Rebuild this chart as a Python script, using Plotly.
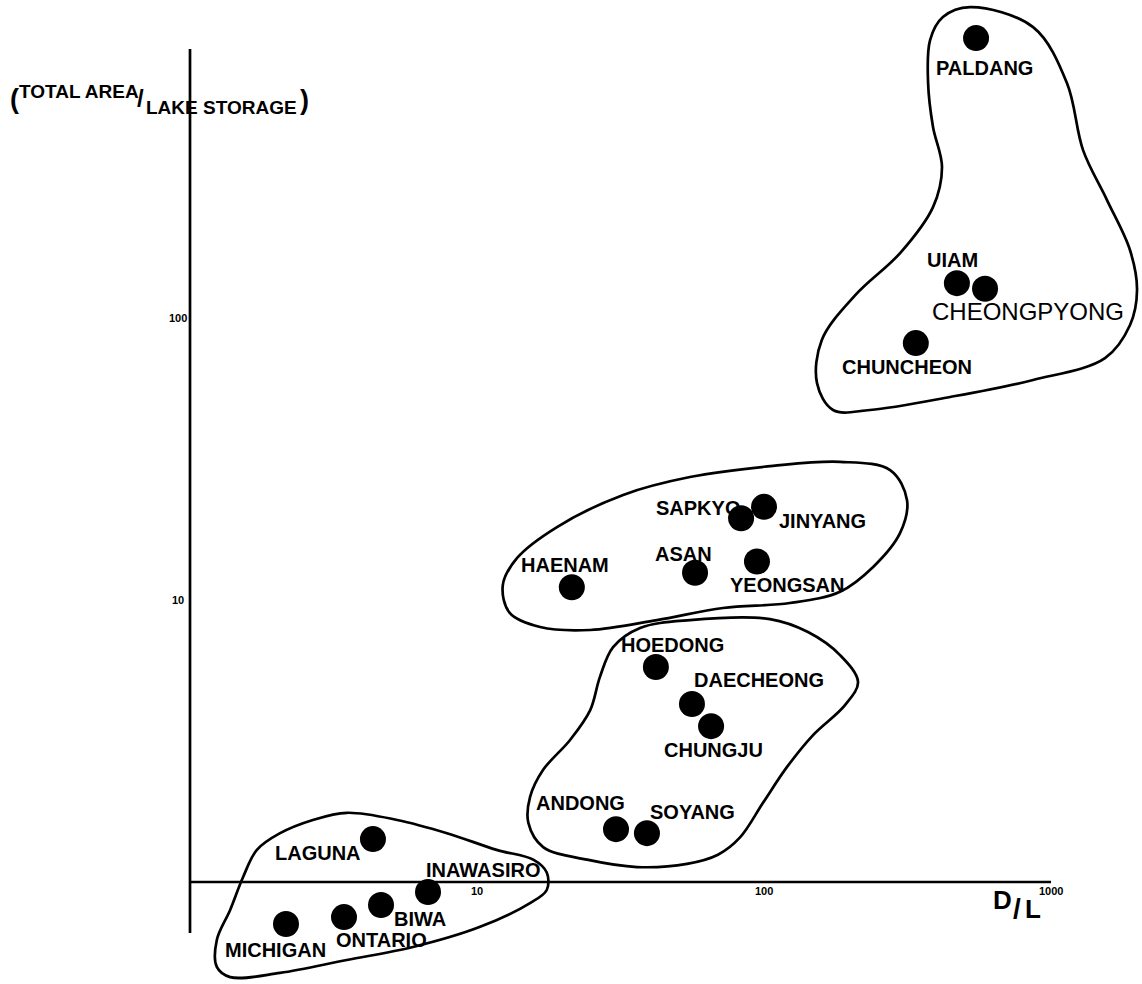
import math
import plotly.graph_objects as go

# ---------------- data ----------------
lakes = ["PALDANG", "UIAM", "CHEONGPYONG", "CHUNCHEON",
         "SAPKYO", "JINYANG", "ASAN", "YEONGSAN", "HAENAM",
         "HOEDONG", "DAECHEONG", "CHUNGJU", "ANDONG", "SOYANG",
         "LAGUNA", "INAWASIRO", "BIWA", "ONTARIO", "MICHIGAN"]
d_over_l = [548, 470, 589, 338,
            83.2, 100, 57.5, 94.5, 21.4,
            42.0, 56.1, 65.4, 30.5, 39.1,
            4.34, 6.75, 4.63, 3.44, 2.16]
area_over_storage = [984, 133, 127, 81.5,
                     19.5, 21.4, 12.5, 13.7, 11.1,
                     5.79, 4.28, 3.57, 1.54, 1.49,
                     1.42, 0.922, 0.829, 0.751, 0.710]

# hand-drawn group outlines (data units)
group1_x = [522, 866, 1137, 1293, 1567, 1885, 1994, 1885, 1542, 866, 445, 234, 174, 153, 159, 208, 298, 388, 417, 388, 373, 379, 420]
group1_y = [1267, 1076, 681, 394, 262, 174, 125.7, 94.5, 72.1, 60.3, 52.5, 47.2, 47.2, 58.8, 83.6, 120.6, 170, 247.5, 343, 476, 681, 968, 1168]
group2_x = [12.3, 13.8, 19.0, 32.3, 55.2, 107.5, 184, 275, 315, 298, 240, 184, 123, 72.0, 42.4, 24.8, 16.6, 13.0]
group2_y = [11.3, 14.1, 18.15, 23.6, 27.3, 29.9, 30.9, 28.9, 22.6, 17.3, 13.1, 10.7, 9.76, 9.37, 8.49, 7.83, 8.02, 9.0]
group3_x = [26.8, 29.8, 37.0, 55.2, 104.9, 142.3, 184, 212.6, 191.5, 148.2, 120.3, 99.2, 82.5, 69.1, 53.9, 36.1, 24.2, 17.0, 15.1, 15.3, 17.0, 21.1, 24.8]
group3_y = [5.33, 6.81, 7.96, 8.49, 8.56, 7.70, 6.38, 5.12, 4.24, 3.32, 2.56, 1.91, 1.44, 1.25, 1.16, 1.13, 1.20, 1.33, 1.62, 2.0, 2.5, 3.19, 4.07]
group4_x = [1.53, 1.71, 2.06, 2.68, 3.52, 5.27, 7.86, 11.7, 15.7, 17.5, 17.5, 15.3, 10.2, 5.98, 3.52, 2.06, 1.38, 1.24, 1.24, 1.38]
group4_y = [1.04, 1.30, 1.49, 1.66, 1.76, 1.66, 1.49, 1.30, 1.20, 1.08, 0.937, 0.842, 0.692, 0.588, 0.529, 0.476, 0.460, 0.500, 0.623, 0.796]

x_ticks = [10, 100, 1000]
x_tick_labels = ["10", "100", "1000"]
y_ticks = [10, 100]
y_tick_labels = ["10", "100"]
axis_x_extent = [1, 1000]
axis_y_extent = [0.66, 900]

# label offsets (pixels, +dx right, +dy down) relative to each dot
label_offsets = {
    "PALDANG": (8, 30), "UIAM": (-4, -23), "CHEONGPYONG": (43, 23),
    "CHUNCHEON": (-9, 24), "SAPKYO": (-43, -10), "JINYANG": (58, 14),
    "ASAN": (-12, -19), "YEONGSAN": (30, 24), "HAENAM": (-7, -22),
    "HOEDONG": (17, -22), "DAECHEONG": (67, -24), "CHUNGJU": (2, 24),
    "ANDONG": (-36, -26), "SOYANG": (46, -21), "LAGUNA": (-55, 14),
    "INAWASIRO": (55, -22), "BIWA": (39, 14), "ONTARIO": (38, 23),
    "MICHIGAN": (-10, 26),
}

W, H = 1142, 984
FONT = "Liberation Sans, Arial, sans-serif"

fig = go.Figure()

for gx, gy in [(group1_x, group1_y), (group2_x, group2_y),
               (group3_x, group3_y), (group4_x, group4_y)]:
    fig.add_trace(go.Scatter(
        x=gx + gx[:1], y=gy + gy[:1], mode="lines",
        line=dict(color="black", width=2.7, shape="spline", smoothing=1.0),
        hoverinfo="skip", showlegend=False))

# axes drawn crossing at (1, 1)
fig.add_trace(go.Scatter(x=axis_x_extent, y=[1, 1], mode="lines",
                         line=dict(color="black", width=2.7),
                         hoverinfo="skip", showlegend=False))
fig.add_trace(go.Scatter(x=[1, 1], y=axis_y_extent, mode="lines",
                         line=dict(color="black", width=2.7),
                         hoverinfo="skip", showlegend=False))

fig.add_trace(go.Scatter(
    x=d_over_l, y=area_over_storage, mode="markers", text=lakes,
    marker=dict(color="black", size=26, line=dict(width=0)),
    cliponaxis=False, showlegend=False))

annotations = []
for name, xv, yv in zip(lakes, d_over_l, area_over_storage):
    dx, dy = label_offsets[name]
    big = name == "CHEONGPYONG"
    annotations.append(dict(
        x=math.log10(xv), y=math.log10(yv), xref="x", yref="y",
        text=name, showarrow=False, xshift=dx, yshift=-dy,
        xanchor="center", yanchor="middle",
        font=dict(family=FONT, size=24 if big else 20, color="black",
                  weight="normal" if big else "bold")))

for tv, tl in zip(x_ticks, x_tick_labels):
    annotations.append(dict(
        x=math.log10(tv), y=0, xref="x", yref="y", text=tl, showarrow=False,
        yshift=-9, xanchor="center", yanchor="middle",
        font=dict(family=FONT, size=11, color="black", weight="bold")))
for tv, tl in zip(y_ticks, y_tick_labels):
    annotations.append(dict(
        x=0, y=math.log10(tv), xref="x", yref="y", text=tl, showarrow=False,
        xshift=-12, xanchor="center", yanchor="middle",
        font=dict(family=FONT, size=11, color="black", weight="bold")))


def paper(px, py, text, size, anchor="left", weight="bold"):
    return dict(x=px / W, y=1 - py / H, xref="paper", yref="paper",
                text=text, showarrow=False, xanchor=anchor, yanchor="middle",
                borderpad=0,
                font=dict(family=FONT, size=size, color="black", weight=weight))


# y axis title (TOTAL AREA / LAKE STORAGE)
annotations += [
    paper(9, 99, "(", 27),
    paper(18, 91, "TOTAL AREA", 19),
    paper(140, 99, "/", 24, anchor="center"),
    paper(145, 107, "LAKE STORAGE", 19),
    paper(299, 100, ")", 27),
]
# x axis title D/L
annotations += [
    paper(1003, 900, "D", 26, anchor="center"),
    paper(1017, 908, "/", 28, anchor="center"),
    paper(1033, 909, "L", 26, anchor="center"),
]

fig.update_layout(
    width=W, height=H,
    margin=dict(l=0, r=0, t=0, b=0),
    paper_bgcolor="white", plot_bgcolor="white",
    xaxis=dict(type="log", range=[-0.662, 3.317], visible=False),
    yaxis=dict(type="log", range=[-0.3617, 3.128], visible=False),
    annotations=annotations,
    showlegend=False,
)

fig.write_html("out.html", config={"displayModeBar": False},
               post_script="document.body.style.margin='0';")
